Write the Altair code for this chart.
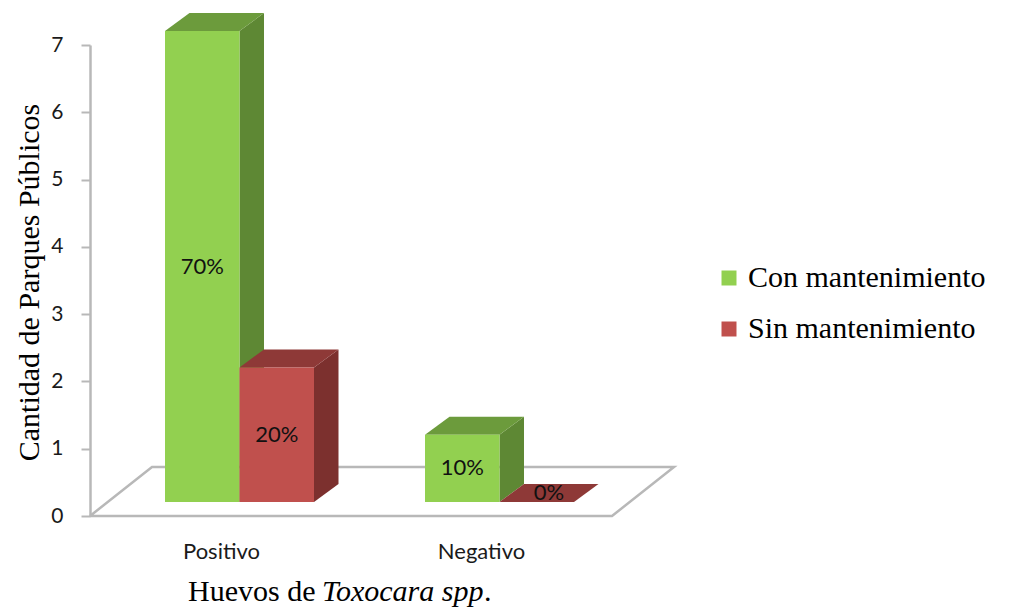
import altair as alt
import pandas as pd

# ---------------- data ----------------
categories = ["Positivo", "Negativo"]
series_names = ["Con mantenimiento", "Sin mantenimiento"]
con_mantenimiento = [7, 1]
sin_mantenimiento = [2, 0]
con_labels = ["70%", "10%"]
sin_labels = ["20%", "0%"]
y_ticks = [0, 1, 2, 3, 4, 5, 6, 7]
title_parts = ["Huevos  de ", "Toxocara spp", "."]
y_title = "Cantidad  de Parques Públicos"

# ---------------- style ----------------
front_colors = ["#92D050", "#C0504D"]
side_colors = ["#5E8834", "#7C302E"]
top_colors = ["#6C9B3C", "#8E3937"]
grey = "#B8B8B8"

PX_PER_UNIT = 471 / 7
X_START = 75
GROUP_STEP = 260
BAR_W = 74.5
DEPTH_X = 24.5
DEPTH_Y = 18 / PX_PER_UNIT
BASE = 14 / PX_PER_UNIT
FLOOR_W = 522
FLOOR_DX = 62
FLOOR_DY = 49 / PX_PER_UNIT

series_values = [con_mantenimiento, sin_mantenimiento]
series_labels = [con_labels, sin_labels]

xs = alt.Scale(domain=[0, 600], nice=False, zero=False)
ys = alt.Scale(domain=[0, 7], nice=False)

yaxis = alt.Axis(values=y_ticks, grid=False, domainColor=grey, domainWidth=2.5,
                 tickColor=grey, tickWidth=2, tickSize=9, labelPadding=18,
                 labelFont="Lato", labelFontSize=21, labelColor="#1a1a1a",
                 titleFont="Liberation Serif", titleFontSize=30, titleFontWeight="normal",
                 titleColor="#000000", titleX=-52, titleY=237, titleAngle=270,
                 titleAlign="center", titleBaseline="alphabetic")


def X(f):
    return alt.X(f, scale=xs, axis=None)


def Y(f):
    return alt.Y(f, scale=ys, axis=yaxis, title=y_title)


front_rows, cat_rows = [], []
side_layers, top_layers = [], []
for g, cat in enumerate(categories):
    cat_rows.append({"cat": cat, "xc": X_START + g * GROUP_STEP + BAR_W})
    for s, name in enumerate(series_names):
        v = series_values[s][g]
        x0 = X_START + g * GROUP_STEP + s * BAR_W
        x1 = x0 + BAR_W
        # label at the centre of the front face; a zero bar shows it on its top face
        if v > 0:
            xm, ym = (x0 + x1) / 2, BASE + v / 2
        else:
            xm, ym = (x0 + x1) / 2 + DEPTH_X / 2, BASE + DEPTH_Y / 2
        front_rows.append({"serie": name, "x0": x0, "x1": x1,
                           "y0": BASE, "y1": BASE + v, "xm": xm,
                           "ym": ym, "lab": series_labels[s][g]})
        sd = pd.DataFrame({"sx": [x1, x1 + DEPTH_X],
                           "sy": [BASE, BASE + DEPTH_Y],
                           "sy2": [BASE + v, BASE + v + DEPTH_Y]})
        side_layers.append(
            alt.Chart(sd).mark_area(color=side_colors[s], opacity=1).encode(
                x=X("sx:Q"), y=Y("sy:Q"), y2="sy2:Q"))
        td = pd.DataFrame({"ty": [BASE + v, BASE + v + DEPTH_Y],
                           "tx": [x0, x0 + DEPTH_X],
                           "tx2": [x1, x1 + DEPTH_X]})
        top_layers.append(
            alt.Chart(td).mark_area(color=top_colors[s], opacity=1, orient="horizontal").encode(
                y=Y("ty:Q"), x=X("tx:Q"), x2="tx2:Q"))

front_df = pd.DataFrame(front_rows)
cat_df = pd.DataFrame(cat_rows)
floor_df = pd.DataFrame({
    "pt": [0, 1, 2, 3, 4],
    "fx": [0, FLOOR_W, FLOOR_W + FLOOR_DX, FLOOR_DX, 0],
    "fy": [0, 0, FLOOR_DY, FLOOR_DY, 0],
})

floor = alt.Chart(floor_df).mark_line(color=grey, strokeWidth=2.5).encode(
    x=X("fx:Q"), y=Y("fy:Q"), order="pt:Q")

# interleave so each bar's faces are drawn in order (green first, then red)
bar_layers = []
for i in range(len(side_layers)):
    bar_layers.append(side_layers[i])
    bar_layers.append(top_layers[i])

front = alt.Chart(front_df).mark_rect().encode(
    x=X("x0:Q"), x2="x1:Q", y=Y("y0:Q"), y2="y1:Q",
    color=alt.Color("serie:N",
                    scale=alt.Scale(domain=series_names, range=front_colors),
                    legend=alt.Legend(orient="none", legendX=624, legendY=218,
                                      title=None, direction="vertical",
                                      symbolType="square", symbolSize=225,
                                      symbolStrokeWidth=0, labelFont="Liberation Serif",
                                      labelFontSize=30, labelColor="#000000",
                                      labelOffset=4, rowPadding=21, padding=0,
                                      symbolOffset=0, labelLimit=400)))

labels = alt.Chart(front_df).mark_text(font="Lato", fontSize=22, color="#111111",
                                       baseline="middle", align="center").encode(
    x=X("xm:Q"), y=Y("ym:Q"), text="lab:N")

cat_labels = alt.Chart(cat_df).mark_text(font="Lato", fontSize=22, color="#1a1a1a",
                                         baseline="middle", align="center", dx=-18).encode(
    x=X("xc:Q"), y=alt.value(507), text="cat:N")

t1 = alt.Chart(pd.DataFrame({"t": [title_parts[0]]})).mark_text(
    font="Liberation Serif", fontSize=30, align="left", baseline="alphabetic",
    color="#000000").encode(x=alt.value(98), y=alt.value(556), text="t:N")
t2 = alt.Chart(pd.DataFrame({"t": [title_parts[1]]})).mark_text(
    font="Liberation Serif", fontSize=30, fontStyle="italic", align="left",
    baseline="alphabetic", color="#000000").encode(x=alt.value(232), y=alt.value(556), text="t:N")
t3 = alt.Chart(pd.DataFrame({"t": [title_parts[2]]})).mark_text(
    font="Liberation Serif", fontSize=30, align="left", baseline="alphabetic",
    color="#000000").encode(x=alt.value(394), y=alt.value(556), text="t:N")

chart = alt.layer(floor, *bar_layers, front, labels, cat_labels, t1, t2, t3).properties(
    width=600, height=471,
    padding={"left": 90, "top": 45, "right": 321, "bottom": 98},
    autosize=alt.AutoSizeParams(type="none"),
    background="white",
).configure_view(strokeWidth=0)

chart.save("out.html", embed_options={"renderer": "svg", "actions": False})
